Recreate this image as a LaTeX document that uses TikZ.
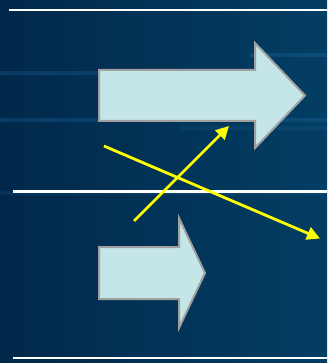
\documentclass[tikz,border=0pt]{standalone}
\usetikzlibrary{arrows.meta}
\definecolor{bgdark}{HTML}{01284A}
\definecolor{bglight}{HTML}{033E64}
\definecolor{streak}{HTML}{2A7FC0}
\definecolor{blockfill}{HTML}{C5E6E8}
\definecolor{blockline}{HTML}{A0A0A0}
\definecolor{arrowyellow}{HTML}{FFFF00}
\tikzset{
  blockarrow/.style={fill=blockfill, draw=blockline, line width=2pt, line join=miter},
  rule/.style={draw=white, line width=2.3pt},
  ptr/.style={draw=arrowyellow, line width=2.8pt, -{Triangle[length=13pt,width=13pt]}},
  streakline/.style={draw=streak, line width=4pt, opacity=0.22}
}
\begin{document}
\begin{tikzpicture}[x=1pt,y=-1pt]
\useasboundingbox (0,0) rectangle (327,363);
\shade[left color=bgdark, right color=bglight] (0,0) rectangle (327,363);
% faint streaks
\draw[streakline] (0,73) -- (110,73);
\draw[streakline] (250,55) -- (327,55);
\draw[streakline] (0,120) -- (327,120);
\draw[streakline,opacity=0.12] (180,128) -- (327,128);
\draw[streakline,opacity=0.12] (0,193) -- (327,193);
% white rules
\draw[rule] (9,10) -- (327,10);
\draw[rule] (13,191.5) -- (327,191.5);
\draw[rule] (13,358) -- (327,358);
% block arrows
\draw[blockarrow] (99,70) -- (255,70) -- (255,43) -- (305,95.5) -- (255,148) -- (255,121) -- (99,121) -- cycle;
\draw[blockarrow] (99,247) -- (179,247) -- (179,218) -- (205,273) -- (179,328) -- (179,299) -- (99,299) -- cycle;
% yellow pointers
\coordinate (a1s) at (134,221);
\coordinate (a1e) at (229,126);
\coordinate (a2s) at (104,146);
\coordinate (a2e) at (320,238.5);
\draw[ptr] (a1s) -- (a1e);
\draw[ptr] (a2s) -- (a2e);
\end{tikzpicture}
\end{document}
